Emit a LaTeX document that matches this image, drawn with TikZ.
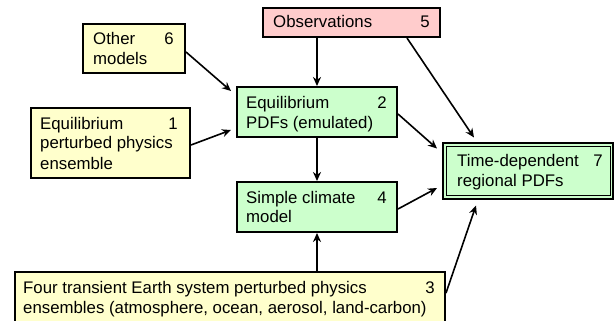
\documentclass[tikz,border=0pt]{standalone}
\usepackage{fontspec}
\setmainfont{Liberation Sans}
\usetikzlibrary{arrows.meta,calc}
\definecolor{yel}{HTML}{FFFFCC}
\definecolor{grn}{HTML}{CCFFCC}
\definecolor{pnk}{HTML}{FFCCCC}
\tikzset{
  box/.style={draw=black,line width=2pt,rectangle,inner sep=0pt},
  txt/.style={inner sep=0pt,anchor=base west,font=\fontsize{16.8}{20.5}\selectfont},
  num/.style={inner sep=0pt,anchor=base east,font=\fontsize{16.8}{20.5}\selectfont},
  arr/.style={line width=1.6pt,-{Stealth[length=9pt,width=8pt]}},
}
\newcommand{\lines}[1]{\vtop{\baselineskip=20pt\lineskiplimit=-10pt\halign{##\hfil\cr#1\crcr}}}
\begin{document}
\begin{tikzpicture}[x=1pt,y=-1pt]
\useasboundingbox (0,0) rectangle (614,321);
% boxes
\node[box,fill=yel,minimum width=102pt,minimum height=49pt] (b6) at (134,48.5) {};
\node[box,fill=yel,minimum width=159pt,minimum height=70pt] (b1) at (110.5,143) {};
\node[box,fill=pnk,minimum width=177pt,minimum height=29pt] (b5) at (351.5,22.5) {};
\node[box,fill=grn,minimum width=160pt,minimum height=50pt] (b2) at (317,112) {};
\node[box,fill=grn,minimum width=160pt,minimum height=50pt] (b4) at (317,207) {};
\node[box,fill=yel,minimum width=430pt,minimum height=56pt] (b3) at (230,300) {};
\node[box,fill=grn,minimum width=170pt,minimum height=55pt] (b7) at (528,171) {};
\draw[line width=1pt] ($(b7.north west)+(4,4)$) rectangle ($(b7.south east)+(-4,-4)$);
% texts
\node[txt] (t6) at (93,45) {\lines{Other\cr models}};
\node[num] (n6) at (174,45) {6};
\node[txt] (t1) at (40,129) {\lines{Equilibrium\cr perturbed physics\cr ensemble}};
\node[num] (n1) at (178,129) {1};
\node[txt] (t5) at (273,28) {Observations};
\node[num] (n5) at (430,28) {5};
\node[txt] (t2) at (246,109) {\lines{Equilibrium\cr PDFs (emulated)}};
\node[num] (n2) at (387,109) {2};
\node[txt] (t4) at (246,203) {\lines{Simple climate\cr model}};
\node[num] (n4) at (387,203) {4};
\node[txt] (t3) at (23,293) {\lines{Four transient Earth system perturbed physics\cr ensembles (atmosphere, ocean, aerosol, land-carbon)}};
\node[num] (n3) at (435,293) {3};
\node[txt] (t7) at (457,167) {\lines{Time-dependent\cr regional PDFs}};
\node[num] (n7) at (603,167) {7};
% arrows
\draw[arr] (b6.east |- 0,52) -- ($(b2.north west)+(-5,5)$);
\draw[arr] (b1.east |- 0,145) -- ($(b2.west)+(-5,18)$);
\draw[arr] (b5.south -| b2.north) -- (b2.north);
\draw[arr] (b5.south -| 407,0) -- ($(b7.north west)+(32,-5)$);
\draw[arr] (b2.east |- 0,114) -- ($(b7.north west)+(-5,6)$);
\draw[arr] (b2.south) -- (b4.north);
\draw[arr] (b4.east |- 0,209) -- ($(b7.west)+(-5,17)$);
\draw[arr] (b3.north -| b4.south) -- (b4.south);
\draw[arr] (b3.east |- 0,293) -- ($(b7.south west)+(34,6)$);
\end{tikzpicture}
\end{document}
